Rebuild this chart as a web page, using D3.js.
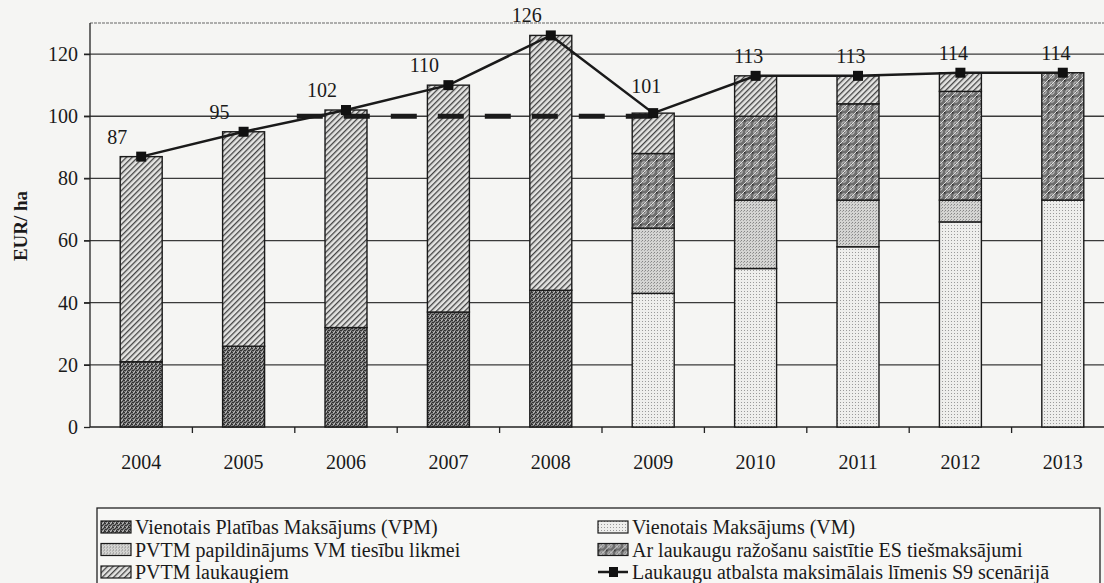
<!DOCTYPE html>
<html>
<head>
<meta charset="utf-8">
<script src="https://cdn.jsdelivr.net/npm/d3@7"></script>
<style>
  body { margin: 0; background: #f5f5f3; }
  text { font-family: "Liberation Serif", "DejaVu Serif", "Times New Roman", serif; fill: #1a1a1a; }
</style>
</head>
<body>
<script>
// data
const years = ["2004", "2005", "2006", "2007", "2008", "2009", "2010", "2011", "2012", "2013"];
const vpm        = [21, 26, 32, 37, 44, 0, 0, 0, 0, 0];
const vm         = [0, 0, 0, 0, 0, 43, 51, 58, 66, 73];
const papild     = [0, 0, 0, 0, 0, 21, 22, 15, 7, 0];
const esPay      = [0, 0, 0, 0, 0, 24, 27, 31, 35, 41];
const laukaugiem = [66, 69, 70, 73, 82, 13, 13, 9, 6, 0];
const maxLevel   = [87, 95, 102, 110, 126, 101, 113, 113, 114, 114];
const refLevel = 100;
const refYears = ["2006", "2009"];
const yTicks = [0, 20, 40, 60, 80, 100, 120];

const seriesNames = {
  vpm: "Vienotais Platības Maksājums (VPM)",
  vm: "Vienotais Maksājums (VM)",
  papild: "PVTM papildinājums VM tiesību likmei",
  es: "Ar laukaugu ražošanu saistītie ES tiešmaksājumi",
  laukaugiem: "PVTM laukaugiem",
  line: "Laukaugu atbalsta maksimālais līmenis S9 scenārijā"
};

const width = 1104, height = 583;
const table = years.map((y, i) => ({
  year: y, vpm: vpm[i], vm: vm[i], papild: papild[i], es: esPay[i], laukaugiem: laukaugiem[i], max: maxLevel[i]
}));
const keys = ["vpm", "vm", "papild", "es", "laukaugiem"];

const svg = d3.select(document.body).append("svg")
  .attr("width", width)
  .attr("height", height);

svg.append("rect").attr("width", width).attr("height", height).attr("fill", "#f5f5f3");

// fill patterns -----------------------------------
const defs = svg.append("defs");

const pVpm = defs.append("pattern").attr("id", "p-vpm")
  .attr("patternUnits", "userSpaceOnUse").attr("width", 4).attr("height", 4);
pVpm.append("rect").attr("width", 4).attr("height", 4).attr("fill", "#7e7e7e");
[[0, 0], [2, 1], [1, 2], [3, 3], [3, 0], [0, 2]].forEach(([x, y]) =>
  pVpm.append("rect").attr("x", x).attr("y", y).attr("width", 1).attr("height", 1).attr("fill", "#333"));
[[1, 0], [2, 3]].forEach(([x, y]) =>
  pVpm.append("rect").attr("x", x).attr("y", y).attr("width", 1).attr("height", 1).attr("fill", "#bdbdbd"));

const pVm = defs.append("pattern").attr("id", "p-vm")
  .attr("patternUnits", "userSpaceOnUse").attr("width", 3).attr("height", 3);
pVm.append("rect").attr("width", 3).attr("height", 3).attr("fill", "#eeeeec");
pVm.append("rect").attr("width", 1).attr("height", 1).attr("fill", "#9a9a9a");

const pPap = defs.append("pattern").attr("id", "p-papild")
  .attr("patternUnits", "userSpaceOnUse").attr("width", 3).attr("height", 3);
pPap.append("rect").attr("width", 3).attr("height", 3).attr("fill", "#d4d4d2");
pPap.append("rect").attr("width", 1).attr("height", 1).attr("fill", "#858585");
pPap.append("rect").attr("x", 2).attr("y", 1).attr("width", 1).attr("height", 1).attr("fill", "#a0a0a0");

const pEs = defs.append("pattern").attr("id", "p-es")
  .attr("patternUnits", "userSpaceOnUse").attr("width", 8).attr("height", 8);
pEs.append("rect").attr("width", 8).attr("height", 8).attr("fill", "#6e6e6e");
pEs.append("circle").attr("cx", 4).attr("cy", 4).attr("r", 2.2)
  .attr("fill", "none").attr("stroke", "#c8c8c8").attr("stroke-width", 1);
pEs.append("path").attr("d", "M0,8 L8,0").attr("stroke", "#e0e0e0").attr("stroke-width", 1);
pEs.append("rect").attr("x", 0).attr("y", 0).attr("width", 1.5).attr("height", 1.5).attr("fill", "#2a2a2a");

const pLauk = defs.append("pattern").attr("id", "p-laukaugiem")
  .attr("patternUnits", "userSpaceOnUse").attr("width", 4).attr("height", 4)
  .attr("patternTransform", "rotate(45)");
pLauk.append("rect").attr("width", 4).attr("height", 4).attr("fill", "#e4e4e2");
pLauk.append("rect").attr("width", 1.3).attr("height", 4).attr("fill", "#444");

// scales -----------------------------------
const x = d3.scaleBand().domain(years).range([90, 1114]);
const y = d3.scaleLinear().domain([0, 130]).range([427, 23]);
const barW = x.bandwidth() * 0.41;
const cx = yr => x(yr) + x.bandwidth() / 2;

// grid + frame
svg.append("g")
  .selectAll("line")
  .data(yTicks.filter(d => d > 0))
  .join("line")
    .attr("x1", 84).attr("x2", width)
    .attr("y1", d => y(d)).attr("y2", d => y(d))
    .attr("stroke", "#3a3a3a").attr("stroke-width", 1.3);

svg.append("line")
  .attr("x1", 90).attr("x2", width).attr("y1", y(130)).attr("y2", y(130))
  .attr("stroke", "#666").attr("stroke-width", 1.2).attr("stroke-dasharray", "3,1");

// y axis
const yAxis = svg.append("g")
  .attr("transform", "translate(90,0)")
  .call(d3.axisLeft(y).tickValues(yTicks).tickSize(6).tickPadding(6));
yAxis.select(".domain").attr("d", `M0,${y(0)}V${y(130)}`).attr("stroke", "#222").attr("stroke-width", 1.3);
yAxis.selectAll(".tick line").attr("stroke", "#222").attr("stroke-width", 1.3);
yAxis.selectAll(".tick text").attr("font-size", 20).attr("fill", "#1a1a1a");

// x axis
const xAxis = svg.append("g")
  .attr("transform", `translate(0,${y(0)})`)
  .call(d3.axisBottom(x).tickSize(0).tickPadding(28));
xAxis.select(".domain").attr("d", `M90,0H${width}`).attr("stroke", "#222").attr("stroke-width", 1.5);
xAxis.selectAll(".tick text").attr("font-size", 20).attr("fill", "#1a1a1a");
svg.append("g")
  .selectAll("line")
  .data(years.slice(1))
  .join("line")
    .attr("x1", d => x(d)).attr("x2", d => x(d))
    .attr("y1", y(0)).attr("y2", y(0) + 6)
    .attr("stroke", "#222").attr("stroke-width", 1.3);

svg.append("text")
  .attr("transform", "translate(27,226) rotate(-90)")
  .attr("text-anchor", "middle")
  .attr("font-size", 19).attr("font-weight", "bold")
  .text("EUR/ ha");

// bars -----------------------------------
const stacked = d3.stack().keys(keys)(table);
svg.append("g")
  .selectAll("g")
  .data(stacked)
  .join("g")
    .attr("fill", d => `url(#p-${d.key})`)
    .selectAll("rect")
    .data(d => d.filter(s => s[1] - s[0] > 0))
    .join("rect")
      .attr("x", d => cx(d.data.year) - barW / 2)
      .attr("y", d => y(d[1]))
      .attr("width", barW)
      .attr("height", d => y(d[0]) - y(d[1]))
      .attr("stroke", "#1a1a1a")
      .attr("stroke-width", 1.4);

// dashed reference level
svg.append("line")
  .attr("x1", x(refYears[0]) + 2).attr("x2", cx(refYears[1]))
  .attr("y1", y(refLevel)).attr("y2", y(refLevel))
  .attr("stroke", "#1a1a1a").attr("stroke-width", 5)
  .attr("stroke-dasharray", "26,21");

// max level line
const line = d3.line().x(d => cx(d.year)).y(d => y(d.max));
svg.append("path")
  .datum(table)
  .attr("d", line)
  .attr("fill", "none")
  .attr("stroke", "#1a1a1a")
  .attr("stroke-width", 2.5);

svg.append("g")
  .selectAll("rect")
  .data(table)
  .join("rect")
    .attr("x", d => cx(d.year) - 5)
    .attr("y", d => y(d.max) - 5)
    .attr("width", 10).attr("height", 10)
    .attr("fill", "#111");

svg.append("g")
  .selectAll("text")
  .data(table)
  .join("text")
    .attr("x", (d, i) => cx(d.year) + (i < 5 ? -24 : -7))
    .attr("y", (d, i) => y(d.max) - (i === 5 ? 20 : 13))
    .attr("text-anchor", "middle")
    .attr("font-size", 20)
    .text(d => d.max);

// legend -----------------------------------
const legend = svg.append("g");
legend.append("rect")
  .attr("x", 97).attr("y", 508).attr("width", 1003).attr("height", 90)
  .attr("fill", "#f7f7f5").attr("stroke", "#222").attr("stroke-width", 1.3);

const legendItems = [
  { key: "vpm", col: 0, row: 0 },
  { key: "papild", col: 0, row: 1 },
  { key: "laukaugiem", col: 0, row: 2 },
  { key: "vm", col: 1, row: 0 },
  { key: "es", col: 1, row: 1 },
  { key: "line", col: 1, row: 2 }
];
const legX = col => col === 0 ? 101 : 598;
const legY = row => 527 + row * 22.5;

const item = legend.selectAll("g")
  .data(legendItems)
  .join("g")
    .attr("transform", d => `translate(${legX(d.col)},${legY(d.row)})`);

item.filter(d => d.key !== "line")
  .append("rect")
    .attr("x", 0).attr("y", -6).attr("width", 30).attr("height", 12)
    .attr("fill", d => `url(#p-${d.key})`)
    .attr("stroke", "#1a1a1a").attr("stroke-width", 1.2);

const lineItem = item.filter(d => d.key === "line");
lineItem.append("line")
  .attr("x1", 0).attr("x2", 30).attr("y1", 0).attr("y2", 0)
  .attr("stroke", "#1a1a1a").attr("stroke-width", 2.5);
lineItem.append("rect")
  .attr("x", 11).attr("y", -5).attr("width", 9).attr("height", 10).attr("fill", "#111");

item.append("text")
  .attr("x", 34).attr("y", 7)
  .attr("font-size", 20)
  .text(d => seriesNames[d.key]);
</script>
</body>
</html>
